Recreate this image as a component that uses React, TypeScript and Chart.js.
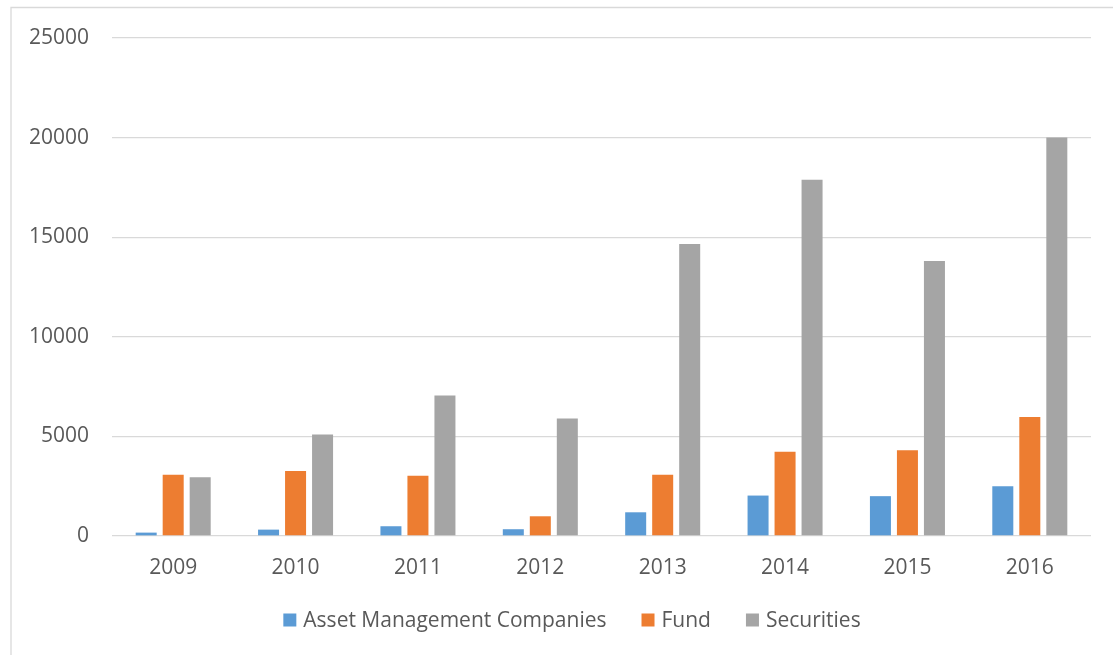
import React, { useEffect, useRef } from "react";
import { Chart, registerables } from "chart.js";

Chart.register(...registerables);

// Yearly totals per institution type
const years = ["2009", "2010", "2011", "2012", "2013", "2014", "2015", "2016"];
const assetManagement = [170, 320, 490, 340, 1190, 2030, 2000, 2500];
const fund = [3080, 3260, 3030, 990, 3080, 4230, 4310, 5970];
const securities = [2950, 5100, 7050, 5900, 14660, 17890, 13810, 20000];

const seriesNames = ["Asset Management Companies", "Fund", "Securities"];
const seriesColors = ["#5b9bd5", "#ed7d31", "#a5a5a5"];

const yMin = 0;
const yMax = 25000;
const yStep = 5000;

const FONT = "'Open Sans', sans-serif";
const TEXT_COLOR = "#595959";
const LINE_COLOR = "#d9d9d9";

// Frame around the chart (left and top edges) plus a centred legend row
const framePlugin = {
  id: "frameAndLegend",
  beforeDraw(chart: any) {
    const ctx = chart.ctx;
    ctx.save();
    ctx.fillStyle = "#ffffff";
    ctx.fillRect(0, 0, chart.width, chart.height);
    ctx.strokeStyle = LINE_COLOR;
    ctx.lineWidth = 1.3;
    ctx.beginPath();
    ctx.moveTo(11, chart.height);
    ctx.lineTo(11, 7.5);
    ctx.lineTo(chart.width, 7.5);
    ctx.stroke();
    ctx.restore();
  },
  afterDraw(chart: any) {
    const ctx = chart.ctx;
    const opts = { box: 13, gap: 7, itemGap: 35, cx: 572, cy: 620 };
    ctx.save();
    ctx.font = `21px ${FONT}`;
    ctx.textBaseline = "middle";
    ctx.textAlign = "left";
    const items = chart.data.datasets.map((ds: any) => ({
      text: ds.label,
      color: ds.backgroundColor,
      w: ctx.measureText(ds.label).width,
    }));
    const total =
      items.reduce((s: number, it: any) => s + opts.box + opts.gap + it.w, 0) +
      opts.itemGap * (items.length - 1);
    let x = opts.cx - total / 2;
    items.forEach((it: any) => {
      ctx.fillStyle = it.color;
      ctx.fillRect(x, opts.cy - opts.box / 2, opts.box, opts.box);
      x += opts.box + opts.gap;
      ctx.fillStyle = TEXT_COLOR;
      ctx.fillText(it.text, x, opts.cy + 1);
      x += it.w + opts.itemGap;
    });
    ctx.restore();
  },
};

export default function App() {
  const canvasRef = useRef<HTMLCanvasElement | null>(null);

  useEffect(() => {
    const canvas = canvasRef.current;
    if (!canvas) return;
    const values = [assetManagement, fund, securities];
    const chart = new Chart(canvas, {
      type: "bar",
      data: {
        labels: years,
        datasets: seriesNames.map((name, i) => ({
          label: name,
          data: values[i],
          backgroundColor: seriesColors[i],
          borderWidth: 0,
          categoryPercentage: 0.662,
          barPercentage: 0.778,
        })),
      },
      options: {
        responsive: false,
        animation: false,
        devicePixelRatio: 1,
        layout: { padding: { left: 0, right: 22, top: 38, bottom: 59 } },
        plugins: {
          legend: { display: false },
          tooltip: { enabled: false },
          title: { display: false },
        },
        scales: {
          x: {
            grid: { display: false },
            border: { display: false },
            ticks: {
              color: TEXT_COLOR,
              font: { family: FONT, size: 21 },
              padding: 11,
              maxRotation: 0,
            },
            afterFit(scale: any) {
              scale.height = 60;
            },
          },
          y: {
            min: yMin,
            max: yMax,
            grid: {
              color: LINE_COLOR,
              lineWidth: 1.3,
              drawTicks: false,
            },
            border: { display: false },
            ticks: {
              stepSize: yStep,
              color: TEXT_COLOR,
              font: { family: FONT, size: 21 },
              padding: 23,
              callback: (value: any) => String(value),
            },
            afterFit(scale: any) {
              scale.width = 112;
            },
          },
        },
      },
      plugins: [framePlugin],
    });
    return () => chart.destroy();
  }, []);

  return (
    <div style={{ position: "absolute", left: 0, top: 0, width: 1113, height: 655, background: "#fff" }}>
      <canvas ref={canvasRef} width={1113} height={655} style={{ display: "block" }} />
    </div>
  );
}
